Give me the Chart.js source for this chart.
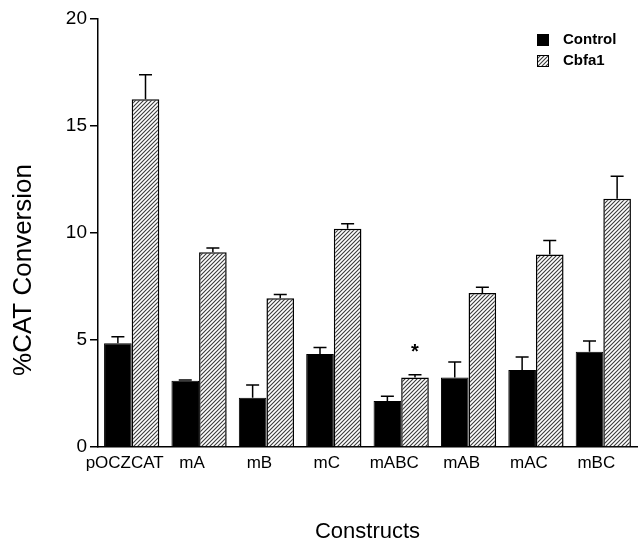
<!DOCTYPE html>
<html>
<head>
<meta charset="utf-8">
<script src="https://cdn.jsdelivr.net/npm/chart.js@4"></script>
<style>
  body { margin: 0; background: #fff; }
</style>
</head>
<body>
<canvas id="cat" width="638" height="546"></canvas>
<script>
const constructs = ['pOCZCAT', 'mA', 'mB', 'mC', 'mABC', 'mAB', 'mAC', 'mBC']
const control = [4.85, 3.1, 2.3, 4.35, 2.15, 3.25, 3.6, 4.45]
const controlErr = [0.3, 0.03, 0.6, 0.3, 0.22, 0.72, 0.6, 0.5]
const cbfa1 = [16.25, 9.1, 6.95, 10.2, 3.25, 7.2, 9.0, 11.6]
const cbfa1Err = [1.15, 0.2, 0.18, 0.23, 0.13, 0.27, 0.65, 1.05]
const cbfa1Marks = ['', '', '', '', '*', '', '', '']
const yTicks = [0, 5, 10, 15, 20]
const yTitle = '%CAT Conversion'

const FONT = "'Liberation Sans', Arial, sans-serif"

// diagonal hatch for the Cbfa1 bars
function hatch() {
    const c = document.createElement('canvas')
    c.width = 4
    c.height = 4
    const g = c.getContext('2d')
    g.fillStyle = '#fff'
    g.fillRect(0, 0, 4, 4)
    g.strokeStyle = '#3a3a3a'
    g.lineWidth = 1.1
    g.beginPath()
    g.moveTo(-1, 5); g.lineTo(5, -1)
    g.moveTo(-1, 1); g.lineTo(1, -1)
    g.moveTo(3, 5); g.lineTo(5, 3)
    g.stroke()
    return g.createPattern(c, 'repeat')
}
const hatchFill = hatch()

const errorBars = {
    id: 'errorBars',
    afterDatasetsDraw(chart) {
        const ctx = chart.ctx
        const y = chart.scales.y
        ctx.save()
        ctx.strokeStyle = '#000'
        ctx.lineWidth = 1.5
        chart.data.datasets.forEach((ds, i) => {
            const meta = chart.getDatasetMeta(i)
            meta.data.forEach((bar, j) => {
                const top = y.getPixelForValue(ds.data[j] + ds.errors[j])
                ctx.beginPath()
                ctx.moveTo(bar.x, bar.y)
                ctx.lineTo(bar.x, top)
                ctx.moveTo(bar.x - 6.5, top)
                ctx.lineTo(bar.x + 6.5, top)
                ctx.stroke()
                if (ds.marks && ds.marks[j]) {
                    ctx.fillStyle = '#000'
                    ctx.font = 'bold 20px ' + FONT
                    ctx.textAlign = 'center'
                    ctx.textBaseline = 'middle'
                    ctx.fillText(ds.marks[j], bar.x, top - 22)
                }
            })
        })
        ctx.restore()
    }
}

// legend in the top right corner and the y title, placed as in the figure
const extras = {
    id: 'extras',
    afterDraw(chart) {
        const ctx = chart.ctx
        ctx.save()
        ctx.font = 'bold 15px ' + FONT
        ctx.textBaseline = 'middle'
        ctx.textAlign = 'left'
        chart.data.datasets.forEach((ds, i) => {
            const cy = 40 + i * 21
            ctx.fillStyle = ds.backgroundColor
            ctx.fillRect(537, cy - 6, 12, 12)
            ctx.strokeStyle = '#000'
            ctx.lineWidth = 1
            ctx.strokeRect(537.5, cy - 5.5, 11, 11)
            ctx.fillStyle = '#000'
            ctx.fillText(ds.label, 563, cy)
        })
        ctx.translate(24, 270)
        ctx.rotate(-Math.PI / 2)
        ctx.font = '26px ' + FONT
        ctx.textAlign = 'center'
        ctx.fillText(yTitle, 0, 0)
        ctx.restore()
    }
}

const chart = new Chart(
    document.getElementById('cat'),
    {
        type: 'bar',
        data: {
            labels: constructs,
            datasets: [{
                label: 'Control',
                data: control,
                errors: controlErr,
                backgroundColor: '#000',
                borderColor: '#000',
                borderWidth: 1,
            }, {
                label: 'Cbfa1',
                data: cbfa1,
                errors: cbfa1Err,
                marks: cbfa1Marks,
                backgroundColor: hatchFill,
                borderColor: '#000',
                borderWidth: 1.5,
            }]
        },
        options: {
            responsive: false,
            animation: false,
            layout: {
                padding: { top: 19, right: 1, left: 0, bottom: 0 }
            },
            datasets: {
                bar: {
                    categoryPercentage: 0.82,
                    barPercentage: 1.0,
                }
            },
            scales: {
                x: {
                    grid: { display: false, drawTicks: false },
                    border: { color: '#000', width: 1.5 },
                    ticks: {
                        color: '#000',
                        font: { family: FONT, size: 17 },
                        padding: 6,
                        labelOffset: -7,
                        maxRotation: 0,
                        autoSkip: false,
                    },
                    title: {
                        display: true,
                        text: 'Constructs',
                        color: '#000',
                        font: { family: FONT, size: 22 },
                        padding: { top: 0, bottom: 1 },
                    },
                    afterFit(scale) { scale.height = 99 },
                },
                y: {
                    min: 0,
                    max: 20,
                    afterBuildTicks(scale) { scale.ticks = yTicks.map(v => ({ value: v })) },
                    grid: {
                        drawOnChartArea: false,
                        drawTicks: true,
                        tickLength: 8,
                        color: '#000',
                        lineWidth: 1.5,
                    },
                    border: { color: '#000', width: 1.5 },
                    ticks: {
                        color: '#000',
                        font: { family: FONT, size: 19 },
                        padding: 3,
                    },
                    afterFit(scale) { scale.width = 98 },
                },
            },
            plugins: {
                legend: { display: false },
                tooltip: { enabled: false },
            },
        },
        plugins: [errorBars, extras]
    }
)
</script>
</body>
</html>
